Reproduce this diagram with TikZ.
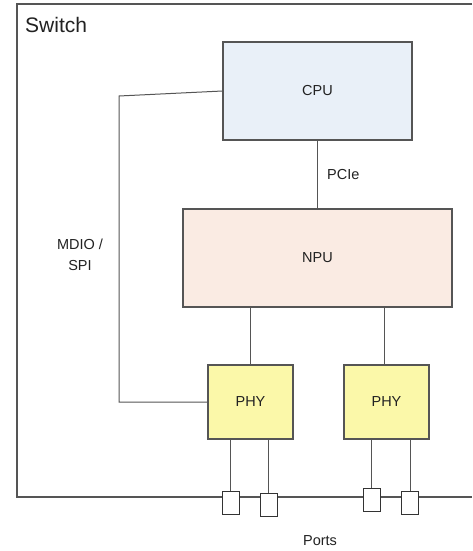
\documentclass[tikz,border=0pt]{standalone}
\usepackage{fontspec}
\setmainfont{Liberation Sans}
\definecolor{cpufill}{HTML}{E9F0F8}
\definecolor{npufill}{HTML}{FAEBE3}
\definecolor{phyfill}{HTML}{FBF8A9}
\definecolor{edgecol}{HTML}{555555}
\definecolor{txtcol}{HTML}{222222}
\begin{document}
\begin{tikzpicture}[x=1pt,y=-1pt,
  blk/.style={draw=edgecol,line width=1.1pt,inner sep=0pt,text=txtcol,font=\fontsize{14.5}{16}\selectfont},
  portbox/.style={draw=black!80,line width=1pt,fill=white,inner sep=0pt,minimum width=17pt,minimum height=23pt},
  wire/.style={draw=edgecol,line width=1pt},
  lbl/.style={text=txtcol,inner sep=0pt,font=\fontsize{14.5}{21}\selectfont}]
\useasboundingbox (0,0) rectangle (472,551);
\fill[white] (0,0) rectangle (472,551);
% switch frame
\draw[edgecol,line width=1.2pt] (472,4) -- (17,4) -- (17,497) -- (472,497);
\node[anchor=west,text=txtcol,inner sep=0pt,font=\fontsize{21}{24}\selectfont] (sw) at (25,25) {Switch};
% blocks
\node[blk,fill=cpufill,minimum width=189pt,minimum height=98pt] (cpu) at (317.5,91) {CPU};
\node[blk,fill=npufill,minimum width=269pt,minimum height=98pt] (npu) at (317.5,258) {NPU};
\node[blk,fill=phyfill,minimum width=85pt,minimum height=74pt] (phy1) at (250.5,402) {PHY};
\node[blk,fill=phyfill,minimum width=85pt,minimum height=74pt] (phy2) at (386.5,402) {PHY};
% ports
\node[portbox] (p1) at (230.5,502.5) {};
\node[portbox] (p2) at (268.5,505) {};
\node[portbox] (p3) at (371.5,500) {};
\node[portbox] (p4) at (410,503) {};
% wires
\coordinate (mtop) at (119,96);
\coordinate (mbot) at (119,402);
\draw[wire] (cpu.west) -- (mtop) -- (mbot) -- (phy1.west);
\draw[wire] (cpu.south) -- (npu.north);
\draw[wire] (npu.south -| phy1.north) -- (phy1.north);
\draw[wire] ([xshift=-2pt]npu.south -| phy2.north) -- ([xshift=-2pt]phy2.north);
\draw[wire] (p1.north |- phy1.south) -- (p1.north);
\draw[wire] (p2.north |- phy1.south) -- (p2.north);
\draw[wire] (p3.north |- phy2.south) -- (p3.north);
\draw[wire] (p4.north |- phy2.south) -- (p4.north);
% labels
\node[lbl,anchor=west] (pcie) at (327,175) {PCIe};
\node[lbl,align=center] (mdio) at (80,255) {MDIO /\\SPI};
\node[lbl] (ports) at (320,541) {Ports};
\end{tikzpicture}
\end{document}
